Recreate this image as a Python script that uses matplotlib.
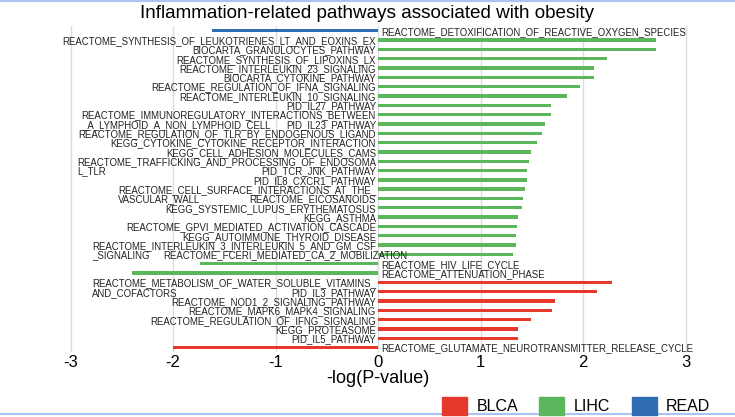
import matplotlib.pyplot as plt
from matplotlib.patches import Patch
from matplotlib.lines import Line2D
import numpy as np

plt.rcParams['font.family'] = ['Liberation Sans', 'DejaVu Sans']

pathways = [
    "REACTOME_DETOXIFICATION_OF_REACTIVE_OXYGEN_SPECIES",
    "REACTOME_SYNTHESIS_OF_LEUKOTRIENES_LT_AND_EOXINS_EX",
    "BIOCARTA_GRANULOCYTES_PATHWAY",
    "REACTOME_SYNTHESIS_OF_LIPOXINS_LX",
    "REACTOME_INTERLEUKIN_23_SIGNALING",
    "BIOCARTA_CYTOKINE_PATHWAY",
    "REACTOME_REGULATION_OF_IFNA_SIGNALING",
    "REACTOME_INTERLEUKIN_10_SIGNALING",
    "PID_IL27_PATHWAY",
    "REACTOME_IMMUNOREGULATORY_INTERACTIONS_BETWEEN\n_A_LYMPHOID_A_NON_LYMPHOID_CELL",
    "PID_IL23_PATHWAY",
    "REACTOME_REGULATION_OF_TLR_BY_ENDOGENOUS_LIGAND",
    "KEGG_CYTOKINE_CYTOKINE_RECEPTOR_INTERACTION",
    "KEGG_CELL_ADHESION_MOLECULES_CAMS",
    "REACTOME_TRAFFICKING_AND_PROCESSING_OF_ENDOSOMA\nL_TLR",
    "PID_TCR_JNK_PATHWAY",
    "PID_IL8_CXCR1_PATHWAY",
    "REACTOME_CELL_SURFACE_INTERACTIONS_AT_THE_\nVASCULAR_WALL",
    "REACTOME_EICOSANOIDS",
    "KEGG_SYSTEMIC_LUPUS_ERYTHEMATOSUS",
    "KEGG_ASTHMA",
    "REACTOME_GPVI_MEDIATED_ACTIVATION_CASCADE",
    "KEGG_AUTOIMMUNE_THYROID_DISEASE",
    "REACTOME_INTERLEUKIN_3_INTERLEUKIN_5_AND_GM_CSF\n_SIGNALING",
    "REACTOME_FCERI_MEDIATED_CA_2_MOBILIZATION",
    "REACTOME_HIV_LIFE_CYCLE",
    "REACTOME_ATTENUATION_PHASE",
    "REACTOME_METABOLISM_OF_WATER_SOLUBLE_VITAMINS_\nAND_COFACTORS",
    "PID_IL3_PATHWAY",
    "REACTOME_NOD1_2_SIGNALING_PATHWAY",
    "REACTOME_MAPK6_MAPK4_SIGNALING",
    "REACTOME_REGULATION_OF_IFNG_SIGNALING",
    "KEGG_PROTEASOME",
    "PID_IL5_PATHWAY",
    "REACTOME_GLUTAMATE_NEUROTRANSMITTER_RELEASE_CYCLE",
]

values = [-1.62, 2.71, 2.71, 2.23, 2.11, 2.11, 1.97, 1.84, 1.69, 1.69,
          1.63, 1.60, 1.55, 1.49, 1.47, 1.45, 1.45, 1.43, 1.41, 1.40,
          1.37, 1.36, 1.35, 1.35, 1.32, -1.74, -2.40, 2.28, 2.14, 1.73,
          1.70, 1.49, 1.37, 1.37, -2.00]

cancer = ["READ"] + ["LIHC"] * 26 + ["BLCA"] * 8

colors = {"BLCA": "#e5392b", "LIHC": "#5cb65b", "READ": "#2f6db5"}

fig = plt.figure(figsize=(7.35, 4.17), dpi=100)
ax = fig.add_axes([0.0541, 0.1552, 0.9204, 0.7824])

y = np.arange(len(values))
ax.barh(y, values, height=0.36, color=[colors[c] for c in cancer], zorder=2)

ax.set_xlim(-3.3, 3.3)
ax.set_ylim(len(values) - 0.5, -0.5)

renderer = fig.canvas.get_renderer()
lab = dict(fontsize=6.9, color="#222222", va="center_baseline", zorder=3)

for i, (name, v) in enumerate(zip(pathways, values)):
    if v < 0:
        ax.text(0.03, i, name, ha="left", **lab)
        continue
    # one label in the original spills over the bar
    x = 0.29 if name.endswith("MOBILIZATION") else -0.02
    lines = name.split("\n")
    t = ax.text(x, i, lines[0], ha="right", **lab)
    if len(lines) > 1:
        # wrapped part goes on the next row, left-aligned with the first line
        x0 = t.get_window_extent(renderer).x0
        xl = ax.transData.inverted().transform((x0, 0))[0]
        ax.text(xl, i + 1, lines[1], ha="left", **lab)

ax.set_xticks([-3, -2, -1, 0, 1, 2, 3])
ax.set_xticklabels(["-3", "-2", "-1", "0", "1", "2", "3"], fontsize=12)
ax.set_yticks([])
ax.tick_params(axis="x", length=0, pad=2)
ax.grid(axis="x", color="#dcdcdc", linewidth=1, zorder=0)
for s in ax.spines.values():
    s.set_visible(False)

ax.set_xlabel("-log(P-value)", fontsize=13, labelpad=0)
fig.suptitle("Inflammation-related pathways associated with obesity",
             fontsize=13.6, y=0.968, va="center", x=0.5)

handles = [Patch(color=colors[k], label=k) for k in ["BLCA", "LIHC", "READ"]]
fig.legend(handles=handles, loc="center right", bbox_to_anchor=(0.986, 0.027),
           ncol=3, frameon=False, fontsize=11.5, handlelength=1.55,
           handleheight=1.4, handletextpad=0.6, columnspacing=1.35)

# thin blue frame lines of the screenshot
fig.add_artist(Line2D([0, 1], [0.998, 0.998], color="#a9c4f5", lw=1.5))
fig.add_artist(Line2D([0, 1], [0.006, 0.006], color="#a9c4f5", lw=1.5))

fig.savefig("out.png", dpi=100)
